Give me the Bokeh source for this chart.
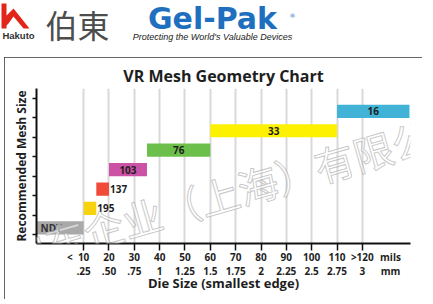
import math
from bokeh.plotting import figure
from bokeh.layouts import column
from bokeh.models import (Range1d, FixedTicker, LinearAxis, Label, Title,
                          ColumnDataSource, Grid)
from bokeh.embed import file_html
from bokeh.resources import INLINE
from bokeh.core.properties import value

# ---- data ----
mesh_sizes = ["NDT", "195", "137", "103", "76", "33", "16"]
die_from = [-8.6, 10, 15, 20, 35, 60, 110]      # mils
die_to = [10, 15, 20, 35, 60, 110, 138.6]        # mils
bar_colors = ["#a9a9a9", "#f7d20e", "#f04b38", "#cb52a5", "#6cbf4a", "#fdf100", "#40b3d7"]
label_place = ["left", "right", "right", "center", "center", "center", "center"]
mils_ticks = [10, 20, 30, 40, 50, 60, 70, 80, 90, 100, 110, 120]
mils_labels = ["10", "20", "30", "40", "50", "60", "70", "80", "90", "100", "110", ">120"]
mm_labels = [".25", ".50", ".75", "1", "1.25", "1.5", "1.75", "2", "2.25", "2.5", "2.75", "3"]
less_than_pos = 4.6
unit_pos = 131.1
y_ticks = [0, 1, 2, 3, 4, 5, 6, 7]

FONT = "Open Sans"
DARK = "#1e1e1e"

# ---------------- header ----------------
HW, HH = 433, 57
hdr = figure(width=HW, height=HH, output_backend="svg", toolbar_location=None,
             x_range=Range1d(0, HW), y_range=Range1d(HH, 0),
             x_axis_type=None, y_axis_type=None, min_border=0)
hdr.frame_align = False
hdr.outline_line_color = None
hdr.xgrid.visible = False
hdr.ygrid.visible = False
hdr.patch([1, 6, 6, 13, 29, 23, 13, 8, 6, 6, 1],
          [3, 3, 15, 8, 28, 28, 16, 23, 25, 28, 28],
          fill_color="#e1251b", line_color=None)
hdr.text([18], [35], text=["Hakuto"], text_align="center", text_baseline="middle",
         text_font=value("Liberation Sans"), text_font_style="bold",
         text_font_size="9.5px", text_color="#333333")
hdr.text([77], [23], text=["伯東"], text_align="center", text_baseline="middle",
         text_font=value("Noto Sans CJK JP"), text_font_size="32px",
         text_color="#4d4d4d")
hdr.text([212], [18], text=["Gel-Pak"], text_align="center",
         text_baseline="middle", text_font=value("DejaVu Sans"),
         text_font_style="bold", text_font_size="30px", text_color="#1f6fbf")
hdr.text([292], [15], text=["®"], text_align="center", text_baseline="middle",
         text_font=value("DejaVu Sans"), text_font_size="6px", text_color="#1f6fbf")
hdr.text([212], [36], text=["Protecting the World's Valuable Devices"],
         text_align="center", text_baseline="middle",
         text_font=value("Liberation Sans"), text_font_style="italic",
         text_font_size="9px", text_color="#222222")

# ---------------- chart ----------------
levels = list(range(len(mesh_sizes)))
bar_h = 0.68
src = ColumnDataSource(dict(
    left=die_from, right=die_to,
    bottom=levels, top=[l + bar_h for l in levels],
    color=bar_colors))

p = figure(width=418, height=242, output_backend="svg", toolbar_location=None,
           x_range=Range1d(-8.6, 139), y_range=Range1d(-0.463, 7.515),
           x_axis_type=None, y_axis_type=None,
           min_border_left=32, min_border_right=12, min_border_top=31, min_border_bottom=56)
p.frame_align = False
p.margin = (0, 0, 0, 4)
p.styles = {"outline": "1.5px solid #333333", "outline-offset": "-1.5px"}
p.outline_line_color = None
p.background_fill_color = "white"
p.border_fill_color = "white"

p.title.text = "VR Mesh Geometry Chart"
p.title.align = "center"
p.title.offset = -10
p.title.standoff = 4
p.title.text_font = FONT
p.title.text_font_style = "bold"
p.title.text_font_size = "16px"
p.title.text_color = DARK

grid = Grid(dimension=0, ticker=FixedTicker(ticks=mils_ticks),
            grid_line_color="#d9d9d9", grid_line_width=2)
p.add_layout(grid)

p.quad(left="left", right="right", bottom="bottom", top="top", color="color",
       line_color=None, source=src)

# bar labels
for i, txt in enumerate(mesh_sizes):
    yc = levels[i] + bar_h / 2
    if label_place[i] == "center":
        x, align, off = (die_from[i] + die_to[i]) / 2, "center", 0
    elif label_place[i] == "right":
        x, align, off = die_to[i], "left", 1
    else:
        x, align, off = die_from[i], "left", 4
    p.add_layout(Label(x=x, y=yc, x_offset=off, text=txt, text_align=align,
                       text_baseline="middle", text_font=FONT,
                       text_font_style="bold", text_font_size="10px",
                       text_color="#333333" if txt == "NDT" else DARK))

lab_kw = dict(major_label_text_font=FONT, major_label_text_font_style="bold",
              major_label_text_font_size="10px", major_label_text_color=DARK)

# mils row: axis line, tick marks (drawn as minor ticks at the mils values), labels
mt = [less_than_pos] + mils_ticks + [unit_pos]
ml = ["<"] + mils_labels + ["mils"]
ax1 = LinearAxis(ticker=FixedTicker(ticks=mt, minor_ticks=mils_ticks),
                 major_label_overrides={t: l for t, l in zip(mt, ml)},
                 major_tick_out=7, major_tick_in=0, major_tick_line_color=None,
                 minor_tick_out=7, minor_tick_in=0, minor_tick_line_width=1.5,
                 minor_tick_line_color="#111111",
                 axis_line_width=2, axis_line_color="#111111",
                 major_label_standoff=-1, **lab_kw)
p.add_layout(ax1, "below")
# mm row
mmt = mils_ticks + [unit_pos]
mml = mm_labels + ["mm"]
ax2 = LinearAxis(ticker=FixedTicker(ticks=mmt),
                 major_label_overrides={t: l for t, l in zip(mmt, mml)},
                 major_tick_out=0, major_tick_in=0, minor_tick_out=0, minor_tick_in=0,
                 axis_line_color=None, major_tick_line_color=None,
                 major_label_standoff=-3, **lab_kw)
p.add_layout(ax2, "below")
p.add_layout(Title(text="Die Size (smallest edge)", align="center", offset=-13,
                   standoff=-14, vertical_align="top", text_font=FONT,
                   text_font_style="bold", text_font_size="13px",
                   text_color=DARK), "below")

ay = LinearAxis(ticker=FixedTicker(ticks=y_ticks),
                major_label_overrides={t: "" for t in y_ticks},
                major_label_text_font_size="0px", major_label_standoff=0,
                major_tick_out=4, major_tick_in=0, minor_tick_out=0, minor_tick_in=0,
                axis_line_width=2, axis_line_color="#111111",
                major_tick_line_width=1.5, major_tick_line_color="#111111")
p.add_layout(ay, "left")
p.add_layout(Title(text="Recommended Mesh Size", align="center", standoff=5,
                   text_font=FONT, text_font_style="bold", text_font_size="12px",
                   text_color=DARK), "left")

# watermark (canvas units of this figure: y counted from the top)
wm = Label(x=3, y=198, x_units="canvas", y_units="canvas",
           text="伯东企业（上海）有限公司", text_align="left", text_baseline="middle",
           text_font="Noto Sans CJK SC", text_font_size="40px",
           text_color="white", text_alpha=0.55, angle=math.radians(16))
try:
    wm.text_outline_color = "#9a9a9a"
except Exception:
    wm.text_color = "#e0e0e0"
p.add_layout(wm)

layout = column(hdr, p, spacing=0)
open("out.html", "w").write(file_html(layout, INLINE))
